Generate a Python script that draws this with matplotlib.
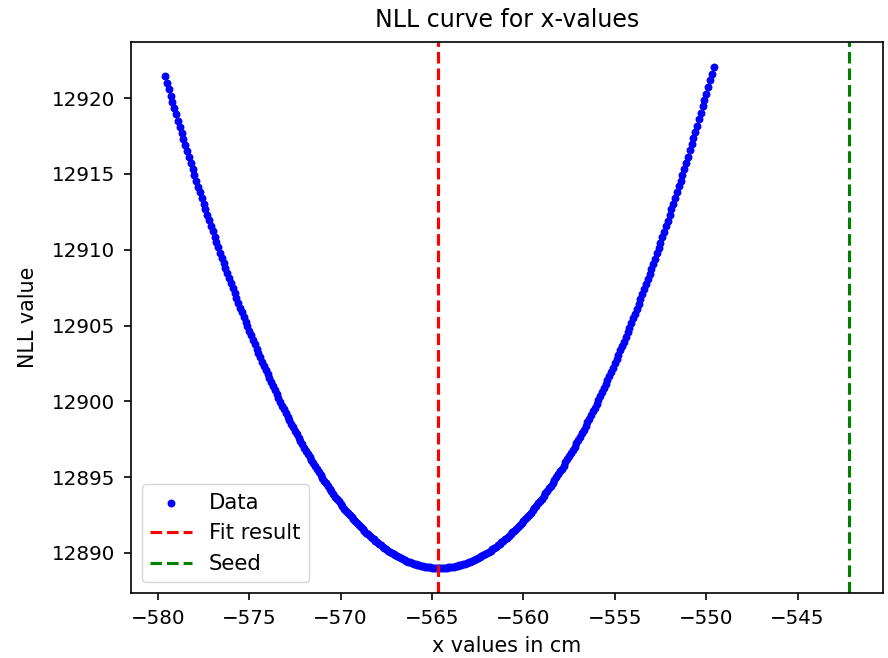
import numpy as np
import matplotlib
matplotlib.use('Agg')
import matplotlib.pyplot as plt

# x grid of the scan (cm) and the NLL
x_first = -579.6
x_last = -549.6
nll = [
    12921.46, 12921.03, 12920.60, 12920.18, 12919.76, 12919.34, 12918.93, 12918.51, 12918.10, 12917.70,
    12917.29, 12916.89, 12916.49, 12916.10, 12915.71, 12915.32, 12914.93, 12914.55, 12914.16, 12913.79,
    12913.41, 12913.04, 12912.67, 12912.30, 12911.94, 12911.58, 12911.22, 12910.86, 12910.51, 12910.16,
    12909.81, 12909.47, 12909.13, 12908.79, 12908.45, 12908.12, 12907.79, 12907.46, 12907.14, 12906.82,
    12906.50, 12906.18, 12905.87, 12905.56, 12905.25, 12904.95, 12904.65, 12904.35, 12904.05, 12903.76,
    12903.47, 12903.18, 12902.90, 12902.62, 12902.34, 12902.06, 12901.79, 12901.52, 12901.25, 12900.99,
    12900.73, 12900.47, 12900.21, 12899.96, 12899.71, 12899.47, 12899.22, 12898.98, 12898.74, 12898.51,
    12898.27, 12898.04, 12897.82, 12897.59, 12897.37, 12897.15, 12896.94, 12896.72, 12896.51, 12896.31,
    12896.10, 12895.90, 12895.70, 12895.51, 12895.32, 12895.13, 12894.94, 12894.76, 12894.58, 12894.40,
    12894.22, 12894.05, 12893.88, 12893.71, 12893.55, 12893.39, 12893.23, 12893.08, 12892.92, 12892.78,
    12892.63, 12892.49, 12892.34, 12892.21, 12892.07, 12891.94, 12891.81, 12891.69, 12891.56, 12891.44,
    12891.32, 12891.21, 12891.10, 12890.99, 12890.88, 12890.78, 12890.68, 12890.58, 12890.49, 12890.40,
    12890.31, 12890.22, 12890.14, 12890.06, 12889.98, 12889.91, 12889.84, 12889.77, 12889.70, 12889.64,
    12889.58, 12889.52, 12889.47, 12889.42, 12889.37, 12889.33, 12889.29, 12889.25, 12889.21, 12889.18,
    12889.15, 12889.12, 12889.09, 12889.07, 12889.05, 12889.04, 12889.02, 12889.01, 12889.01, 12889.00,
    12889.00,
    12889.00, 12889.01, 12889.01, 12889.02, 12889.04, 12889.05, 12889.07, 12889.09, 12889.12, 12889.15,
    12889.18, 12889.21, 12889.25, 12889.29, 12889.33, 12889.37, 12889.42, 12889.47, 12889.53, 12889.58,
    12889.64, 12889.71, 12889.77, 12889.84, 12889.91, 12889.99, 12890.06, 12890.14, 12890.23, 12890.31,
    12890.40, 12890.49, 12890.59, 12890.69, 12890.79, 12890.89, 12891.00, 12891.11, 12891.22, 12891.34,
    12891.45, 12891.58, 12891.70, 12891.83, 12891.96, 12892.09, 12892.23, 12892.36, 12892.51, 12892.65,
    12892.80, 12892.95, 12893.10, 12893.26, 12893.42, 12893.58, 12893.75, 12893.92, 12894.09, 12894.26,
    12894.44, 12894.62, 12894.80, 12894.99, 12895.18, 12895.37, 12895.56, 12895.76, 12895.96, 12896.16,
    12896.37, 12896.58, 12896.79, 12897.01, 12897.23, 12897.45, 12897.67, 12897.90, 12898.13, 12898.36,
    12898.60, 12898.84, 12899.08, 12899.33, 12899.57, 12899.83, 12900.08, 12900.34, 12900.60, 12900.86,
    12901.12, 12901.39, 12901.66, 12901.94, 12902.22, 12902.50, 12902.78, 12903.07, 12903.36, 12903.65,
    12903.94, 12904.24, 12904.54, 12904.85, 12905.16, 12905.47, 12905.78, 12906.09, 12906.41, 12906.74,
    12907.06, 12907.39, 12907.72, 12908.05, 12908.39, 12908.73, 12909.07, 12909.42, 12909.77, 12910.12,
    12910.47, 12910.83, 12911.19, 12911.56, 12911.92, 12912.29, 12912.67, 12913.04, 12913.42, 12913.80,
    12914.19, 12914.57, 12914.96, 12915.36, 12915.75, 12916.15, 12916.56, 12916.96, 12917.37, 12917.78,
    12918.20, 12918.61, 12919.03, 12919.46, 12919.88, 12920.31, 12920.75, 12921.18, 12921.62, 12922.06,
]
fit_result = -564.65
seed = -542.2

x = np.linspace(x_first, x_last, len(nll))

# text in the original is large relative to the axes
plt.rcParams['font.size'] = 14.5
plt.rcParams['axes.linewidth'] = 1.2
for ax_name in ('xtick', 'ytick'):
    plt.rcParams[ax_name + '.major.size'] = 5.0
    plt.rcParams[ax_name + '.major.width'] = 1.2
    plt.rcParams[ax_name + '.major.pad'] = 6.5

fig = plt.figure(figsize=(8.88, 6.58), dpi=100)
ax = fig.add_axes([0.1475, 0.0988, 0.8468, 0.8374])

ax.scatter(x, nll, s=22, color='blue', label='Data')
ax.axvline(fit_result, color='red', linestyle='--', linewidth=2.25, label='Fit result')
ax.axvline(seed, color='green', linestyle='--', linewidth=2.25, label='Seed')

ax.tick_params(labelsize=14.3)
ax.set_title('NLL curve for x-values', fontsize=17, pad=10.8)
ax.set_xlabel('x values in cm', fontsize=14.9, labelpad=6)
ax.set_ylabel('NLL value', fontsize=14.9, labelpad=10)
ax.legend(loc='lower left', fontsize=15.2)

fig.savefig('out.png', dpi=100)
